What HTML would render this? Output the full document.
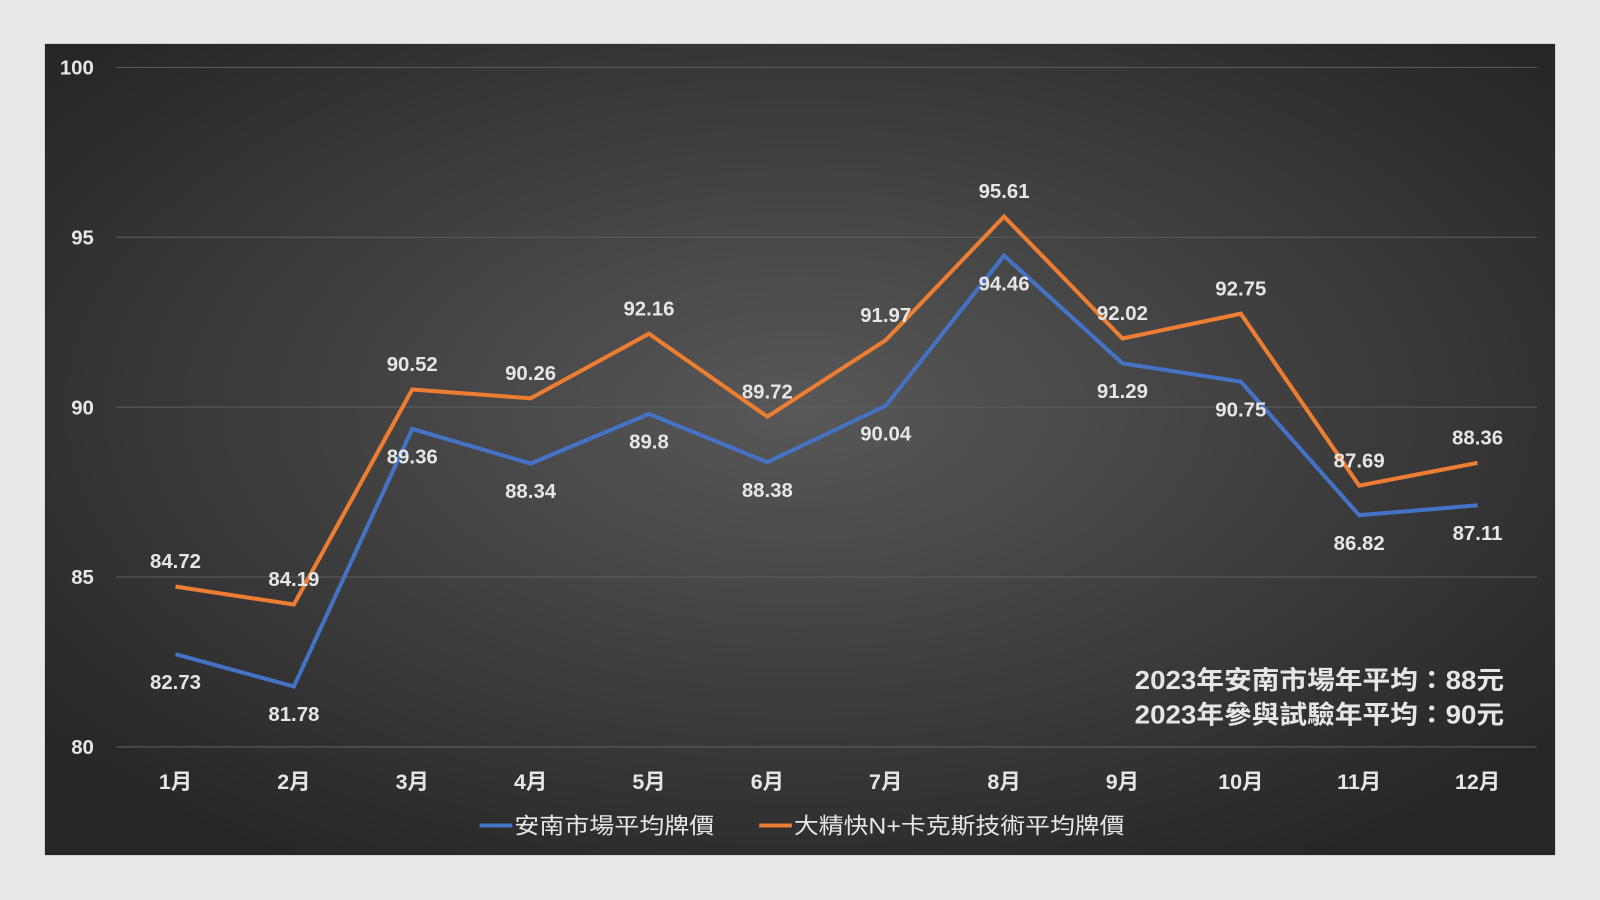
<!DOCTYPE html>
<html><head><meta charset="utf-8"><style>
html,body{margin:0;padding:0;background:#e8e8ea;width:1600px;height:900px;overflow:hidden}
svg{display:block}
text{font-family:"Liberation Sans","Noto Sans CJK TC",sans-serif;fill:#e6e6e6}
</style></head><body>
<svg id="chart" width="1600" height="900" viewBox="0 0 1568 882" xmlns="http://www.w3.org/2000/svg">
<defs>
<radialGradient id="bg" cx="50%" cy="45%" r="65%">
<stop offset="0" stop-color="#585858"/><stop offset="1" stop-color="#262626"/>
</radialGradient>
</defs>
<rect x="0" y="0" width="1568" height="882" fill="#e8e8ea"/>
<rect x="44" y="43" width="1480" height="795" fill="url(#bg)"/>
<g id="grid"></g><g id="series"></g><g id="labels"></g>
<g>
<text x="1112" y="675" textLength="362" lengthAdjust="spacingAndGlyphs" font-size="25" font-weight="bold" fill="#fff">2023年安南市場年平均：88元</text>
<text x="1112" y="709" textLength="362" lengthAdjust="spacingAndGlyphs" font-size="25" font-weight="bold" fill="#fff">2023年參與試驗年平均：90元</text>
</g>
<g>
<line x1="470" y1="809" x2="502" y2="809" stroke="#4472c4" stroke-width="4"/>
<text x="504" y="817" textLength="196" lengthAdjust="spacingAndGlyphs" font-size="22">安南市場平均牌價</text>
<line x1="744" y1="809" x2="776" y2="809" stroke="#ed7d31" stroke-width="4"/>
<text x="778" y="817" textLength="324" lengthAdjust="spacingAndGlyphs" font-size="22">大精快N+卡克斯技術平均牌價</text>
</g>
</svg>
<script>
const categories=["1月","2月","3月","4月","5月","6月","7月","8月","9月","10月","11月","12月"];
const marketValues=[82.73,81.78,89.36,88.34,89.8,88.38,90.04,94.46,91.29,90.75,86.82,87.11];
const trialValues=[84.72,84.19,90.52,90.26,92.16,89.72,91.97,95.61,92.02,92.75,87.69,88.36];
const yTicks=[80,85,90,95,100];
const NS="http://www.w3.org/2000/svg";
const x=i=>172+i*116;
const y=v=>732-(v-80)*33.3;
function mk(tag,attrs,parent){const e=document.createElementNS(NS,tag);for(const k in attrs)e.setAttribute(k,attrs[k]);parent.appendChild(e);return e;}
const grid=document.getElementById('grid'),series=document.getElementById('series'),labels=document.getElementById('labels');
yTicks.forEach(t=>{
 const l=mk('line',{x1:114,x2:1506,y1:y(t),y2:y(t),stroke:'#5e5e5e','stroke-width':1},grid);
 
 
 const tx=mk('text',{x:92,y:y(t)+7,'text-anchor':'end','font-size':20,'font-weight':'bold'},grid);
 tx.textContent=t;
 
 
});
categories.forEach((c,i)=>{
 const tx=mk('text',{x:x(i),y:773,'text-anchor':'middle','font-size':21,'font-weight':'bold'},grid);
 tx.textContent=c;
 
 
});
function draw(vals,color,name,off){
 const p=mk('polyline',{points:vals.map((v,i)=>x(i)+','+y(v)).join(' '),fill:'none',stroke:color,'stroke-width':4,'stroke-linejoin':'miter'},series);
 
 
 vals.forEach((v,i)=>{
  const t=mk('text',{x:x(i),y:y(v)+off+7,'text-anchor':'middle','font-size':20,'font-weight':'bold'},labels);
  t.textContent=v;
  
  
 });
}
draw(marketValues,'#4472c4','market',27);
draw(trialValues,'#ed7d31','trial',-25);
</script>
</body></html>
